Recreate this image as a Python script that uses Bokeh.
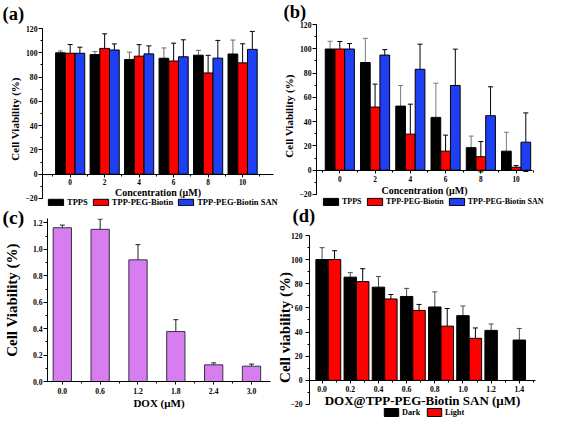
from bokeh.plotting import figure
from bokeh.models import (Range1d, ColumnDataSource, Whisker, TeeHead, Legend, LegendItem,
                          Title, FixedTicker, SingleIntervalTicker, PrintfTickFormatter)
from bokeh.layouts import column
from bokeh.embed import file_html
from bokeh.resources import INLINE

W, H = 546, 419
FONT = "Liberation Serif"

# ---------------- data ----------------
conc = [0, 2, 4, 6, 8, 10]
series_names = ["TPPS", "TPP-PEG-Biotin", "TPP-PEG-Biotin SAN"]

a_tpps = [100.0, 98.5, 94.5, 95.5, 98.0, 99.0]
a_tpps_err = [1.5, 2.5, 6.0, 8.5, 4.0, 11.5]
a_peg = [99.6, 103.6, 97.2, 93.2, 83.4, 91.7]
a_peg_err = [7.2, 12.0, 9.5, 14.7, 14.5, 15.7]
a_san = [99.6, 102.3, 99.1, 96.7, 95.6, 102.8]
a_san_err = [5.0, 5.0, 6.6, 14.0, 14.6, 14.8]

b_tpps = [99.8, 88.7, 52.8, 43.5, 18.6, 15.7]
b_tpps_err = [6.4, 19.9, 17.0, 28.2, 9.5, 15.6]
b_peg = [99.8, 52.0, 29.7, 15.7, 11.1, 2.4]
b_peg_err = [6.2, 18.9, 24.7, 13.2, 12.5, 1.4]
b_san = [99.8, 94.8, 83.1, 69.8, 44.9, 23.1]
b_san_err = [4.5, 4.5, 20.7, 29.9, 23.8, 24.1]

c_dox = [0.0, 0.6, 1.2, 1.8, 2.4, 3.0]
c_via = [1.164, 1.152, 0.921, 0.378, 0.126, 0.116]
c_err = [0.02, 0.077, 0.115, 0.09, 0.015, 0.016]

d_dose = [0.0, 0.2, 0.4, 0.6, 0.8, 1.0, 1.2, 1.4]
d_dark = [100.1, 85.5, 77.2, 69.5, 60.8, 53.6, 41.4, 33.4]
d_dark_err = [9.8, 3.7, 8.8, 6.7, 12.5, 8.0, 5.3, 9.6]
d_light_dose = [0.0, 0.2, 0.4, 0.6, 0.8, 1.0]
d_light = [100.1, 81.8, 67.4, 57.9, 44.9, 34.8]
d_light_err = [7.3, 10.7, 3.7, 5.0, 14.6, 8.6]

BLACK = "#000000"
RED = "#FF0000"
BLUE = "#1F3FF5"
VIOLET = "#D77DF0"


def style_axis(ax, tick_size, label_size, tick_out=4, minor_out=2):
    ax.axis_line_color = "black"
    ax.axis_line_width = 1
    ax.major_tick_line_color = "black"
    ax.minor_tick_line_color = "black"
    ax.major_tick_in = 0
    ax.minor_tick_in = 0
    ax.major_tick_out = tick_out
    ax.minor_tick_out = minor_out
    ax.major_label_text_font = FONT
    ax.major_label_text_font_style = "bold"
    ax.major_label_text_color = "black"
    ax.major_label_text_font_size = tick_size
    ax.axis_label_text_font = FONT
    ax.axis_label_text_font_style = "bold"
    ax.axis_label_text_color = "black"
    ax.axis_label_text_font_size = label_size


def frame_fig(left, right, top, bottom, xr, yr, xaxis=True, yaxis=True, first=False):
    # every panel is a full-size transparent canvas stacked on the others; its frame is placed by the borders
    p = figure(width=W, height=H, x_range=Range1d(*xr), y_range=Range1d(*yr),
               output_backend="svg", toolbar_location=None,
               x_axis_location="below" if xaxis else None,
               y_axis_location="left" if yaxis else None,
               min_border_left=left, min_border_right=W - right,
               min_border_top=top, min_border_bottom=H - bottom)
    p.frame_align = False
    p.border_fill_color = None
    p.background_fill_color = None
    p.outline_line_color = None
    p.grid.visible = False
    p.margin = (0, 0, 0, 0) if first else (-H, 0, 0, 0)
    return p


def bars(p, x, top, err, offset, width, color, wcolor="black", line_color="black"):
    xs = [v + offset for v in x]
    src = ColumnDataSource(dict(x=xs, top=top,
                                up=[t + e for t, e in zip(top, err)],
                                lo=[t - e for t, e in zip(top, err)]))
    r = p.vbar(x="x", top="top", bottom=0, width=width, source=src,
               fill_color=color, line_color=line_color, line_width=1)
    w = Whisker(base="x", upper="up", lower="lo", source=src, line_color=wcolor, line_width=1,
                upper_head=TeeHead(size=5, line_color=wcolor, line_width=1),
                lower_head=TeeHead(size=5, line_color=wcolor, line_width=1))
    p.add_layout(w)
    return r


def legend(p, items, loc, fsize, gw, gh, spacing=3):
    leg = Legend(items=[LegendItem(label=l, renderers=[r]) for l, r in items],
                 orientation="horizontal", location=loc, padding=0, margin=0,
                 spacing=spacing, label_standoff=2, glyph_width=gw, glyph_height=gh,
                 label_text_font=FONT, label_text_font_style="bold",
                 label_text_font_size=fsize, label_text_color="black", label_height=gh,
                 border_line_color=None, background_fill_alpha=0)
    p.add_layout(leg)


def panel_title(p, text, offset, size, valign, standoff):
    p.add_layout(Title(text=text, align="left", offset=offset, vertical_align=valign,
                       standoff=standoff, text_font=FONT, text_font_style="bold",
                       text_font_size=size, text_color="black"), "above")


def conc_axes(p, xbounds, label_standoff, title_standoff):
    xa, ya = p.xaxis[0], p.yaxis[0]
    style_axis(xa, "7.3px", "10px", tick_out=3)
    style_axis(ya, "7.7px", "11px")
    xa.fixed_location = 0
    xa.bounds = xbounds
    xa.ticker = FixedTicker(ticks=conc, minor_ticks=[-1, 1, 3, 5, 7, 9, 11])
    xa.axis_label = "Concentration (\u03bcM)"
    xa.major_label_standoff = label_standoff
    xa.axis_label_standoff = title_standoff
    ya.bounds = (-20, 120)
    ya.ticker = SingleIntervalTicker(interval=20, num_minor_ticks=2)
    ya.axis_label = "Cell Viability (%)"
    ya.major_label_standoff = 1
    ya.axis_label_standoff = 1


# ---------------- panel (a) ----------------
pa = frame_fig(42, 296, 28, 209, (-1.604, 13.125), (-29.06, 120), first=True)
conc_axes(pa, (-1.604, 11.791), 2, -2)
bw = 0.5634
ra1 = bars(pa, conc, a_tpps, a_tpps_err, -bw, bw, BLACK, wcolor="#6a6a6a")
ra2 = bars(pa, conc, a_peg, a_peg_err, 0.0, bw, RED)
ra3 = bars(pa, conc, a_san, a_san_err, bw, bw, BLUE)
legend(pa, list(zip(series_names, [ra1, ra2, ra3])), (4, 2), "8.5px", 19, 8)
panel_title(pa, "(a)", -40, "18.5px", "top", 5)

# ---------------- panel (b) ----------------
pb = frame_fig(316, 546, 24, 207, (-1.322, 11.724), (-30.71, 120))
conc_axes(pb, (-1.322, 10.93), 3, -1)
bw = 0.551
rb1 = bars(pb, conc, b_tpps, b_tpps_err, -bw, bw, BLACK, wcolor="#7a7a7a")
rb2 = bars(pb, conc, b_peg, b_peg_err, 0.0, bw, RED)
rb3 = bars(pb, conc, b_san, b_san_err, bw, bw, BLUE)
legend(pb, list(zip(series_names, [rb1, rb2, rb3])), (5, 1), "8px", 19, 9)
panel_title(pb, "(b)", -33, "18.5px", "top", 1)

# ---------------- panel (c) ----------------
pc = frame_fig(45, 270, 218, 381, (-0.2349, 3.301), (0, 1.234))
xa, ya = pc.xaxis[0], pc.yaxis[0]
style_axis(xa, "7.7px", "11px", tick_out=3)
style_axis(ya, "7.7px", "15px")
xa.ticker = FixedTicker(ticks=c_dox, minor_ticks=[0.3, 0.9, 1.5, 2.1, 2.7])
xa.formatter = PrintfTickFormatter(format="%.1f")
xa.axis_label = "DOX (\u03bcM)"
xa.major_label_standoff = 3
xa.axis_label_standoff = 0
ya.ticker = SingleIntervalTicker(interval=0.2, num_minor_ticks=2)
ya.formatter = PrintfTickFormatter(format="%.1f")
ya.axis_label = "Cell Viability (%)"
ya.major_label_standoff = 1
ya.axis_label_standoff = 10
bars(pc, c_dox, c_via, c_err, 0.0, 0.29, VIOLET, wcolor="#222222", line_color="#333344")

# ---------------- panel (d) ----------------
pd = frame_fig(309, 535, 235, 419, (-0.0894, 1.5149), (-32.43, 120), xaxis=False)
ya = pd.yaxis[0]
style_axis(ya, "7.7px", "15px")
ya.bounds = (-20, 120)
ya.ticker = SingleIntervalTicker(interval=20, num_minor_ticks=2)
ya.axis_label = "Cell viability (%)"
ya.major_label_standoff = 3
ya.axis_label_standoff = -6
bw = 0.0883
rd1 = bars(pd, d_dose, d_dark, d_dark_err, 0.0, bw, BLACK, wcolor="#4a4a4a")
rd2 = bars(pd, d_light_dose, d_light, d_light_err, bw, bw, RED)
legend(pd, [("Dark", rd1), ("Light", rd2)], (73, 2), "8.2px", 18, 10)
panel_title(pd, "(d)", -17, "18.5px", "bottom", 20)

# x axis of panel (d), drawn at its y = 0 level (frame bottom of this canvas)
pdx = frame_fig(309, 535, 230, 380, (-0.0894, 1.5149), (0, 1), yaxis=False)
xa = pdx.xaxis[0]
style_axis(xa, "7.7px", "13px", tick_out=3)
xa.ticker = FixedTicker(ticks=d_dose, minor_ticks=[0.1, 0.3, 0.5, 0.7, 0.9, 1.1, 1.3, 1.5])
xa.formatter = PrintfTickFormatter(format="%.1f")
xa.axis_label = "DOX@TPP-PEG-Biotin SAN (\u03bcM)"
xa.major_label_standoff = 2
xa.axis_label_standoff = -2
panel_title(pdx, "(c)", -307, "19.5px", "bottom", 6)

layout = column(pa, pb, pc, pd, pdx, width=W, height=H)
open("out.html", "w").write(file_html(layout, INLINE))
